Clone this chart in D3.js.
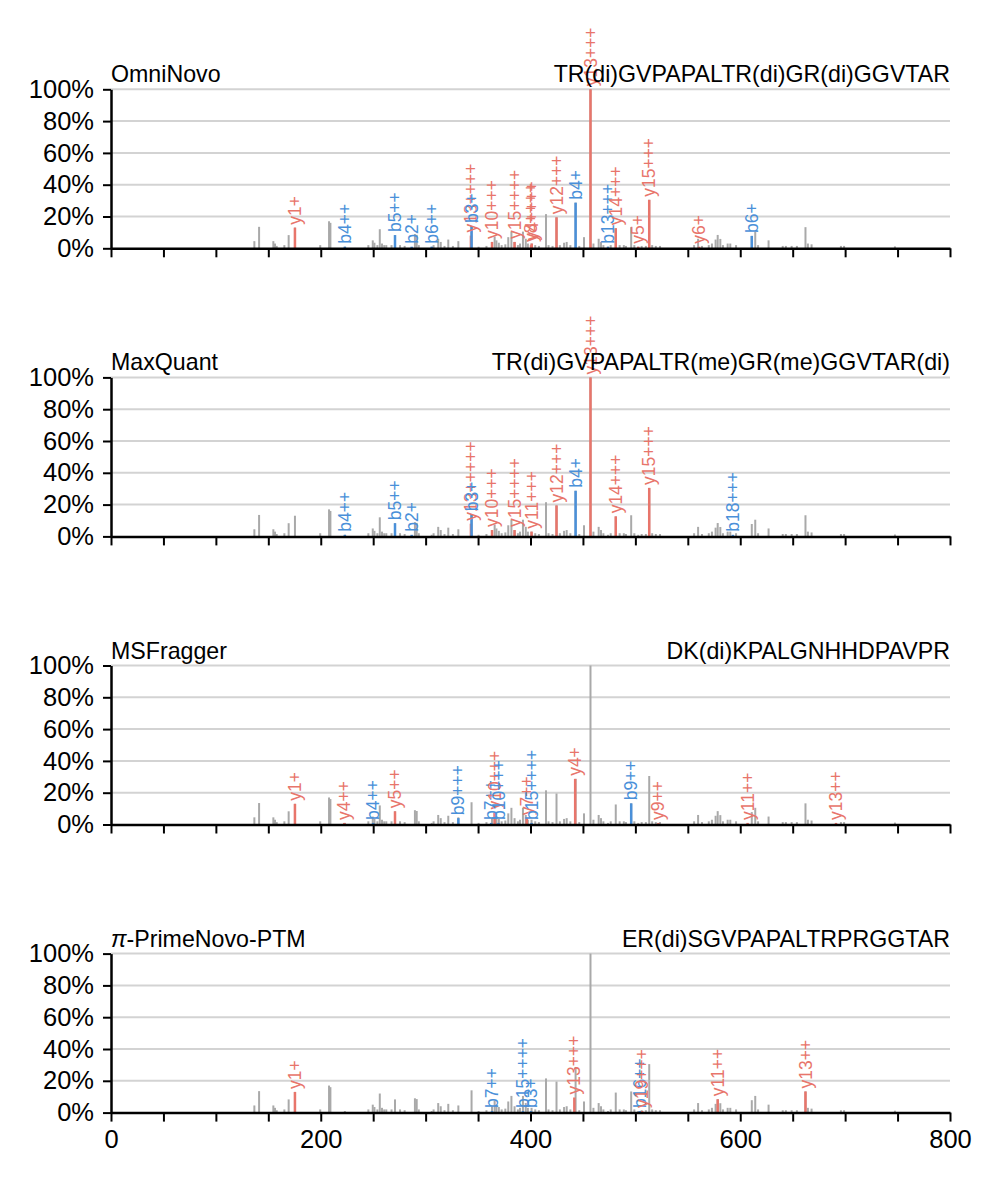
<!DOCTYPE html>
<html>
<head>
<meta charset="utf-8">
<script src="https://cdn.jsdelivr.net/npm/d3@7"></script>
<style>
  body { margin: 0; background: #fff; }
  text { font-family: "Liberation Sans", Arial, sans-serif; }
</style>
</head>
<body>
<svg id="chart" width="998" height="1184"></svg>
<script>
// background spectrum, shared by all panels (m/z, relative intensity %)
const peakMz = [136.7, 141.2, 154.8, 156.4, 158.0, 165.3, 169.4, 175.4, 199.5, 207.9, 209.2, 223.0,
  245.4, 249.6, 251.2, 254.0, 256.3, 258.4, 260.5, 262.5, 267.5, 270.8, 275.6, 280.0, 289.8, 291.5, 293.5,
  305.8, 307.6, 312.0, 314.4, 318.0, 321.6, 326.0, 331.2, 343.8, 350.5, 358.0, 363.3, 365.8, 367.5, 369.8,
  372.5, 376.0, 378.8, 381.8, 384.8, 388.0, 390.0, 392.8, 395.5, 397.5, 401.0, 404.5, 408.0, 414.8, 417.2,
  421.0, 424.8, 428.0, 432.0, 434.5, 438.0, 443.0, 446.5, 451.0, 457.2, 460.0, 465.0, 467.2, 469.5, 473.9,
  476.5, 481.3, 485.0, 489.0, 491.0, 496.0, 499.0, 502.7, 506.0, 510.0, 513.2, 516.0, 519.5, 523.5, 556.0,
  559.8, 563.5, 570.0, 573.0, 576.5, 578.5, 581.0, 583.5, 588.0, 590.5, 596.0, 611.0, 614.3, 617.0, 627.0,
  640.5, 643.5, 649.0, 654.0, 662.2, 664.5, 668.0, 696.0, 699.0, 747.5];
const peakInt = [4.5, 13.5, 4.5, 3, 1.5, 2, 8.3, 13, 2, 17, 16, 1,
  2, 5, 3.5, 2, 12, 3, 2, 2, 2, 8.3, 2, 1.5, 9, 8.5, 2,
  1, 2, 6, 4, 1.5, 5.5, 1.5, 4.5, 14, 1, 1.5, 4, 7.5, 5, 3.5,
  2, 2.5, 7, 10.5, 4, 2, 3, 10.5, 6, 3, 3, 2, 1.5, 21.5, 2,
  1.5, 19.5, 2, 3.5, 4, 2, 28.7, 1.5, 7, 100, 3, 6, 4, 2, 1,
  2, 12.6, 2, 2, 1.5, 13.3, 2, 1, 1.5, 1.5, 30.5, 2, 1.5, 1.5, 2,
  6, 1.5, 2, 3, 5.5, 8.4, 5.9, 2, 3, 3, 2, 7.8, 10.5, 2, 5,
  1.5, 1.5, 1.5, 1.5, 13.3, 3, 2.5, 1.5, 1.5, 1.2];

const panelNames = ["OmniNovo", "MaxQuant", "MSFragger", "π-PrimeNovo-PTM"];
const panelSeqs = ["TR(di)GVPAPALTR(di)GR(di)GGVTAR", "TR(di)GVPAPALTR(me)GR(me)GGVTAR(di)",
  "DK(di)KPALGNHHDPAVPR", "ER(di)SGVPAPALTRPRGGTAR"];

// matched fragment ions: [label, m/z, intensity %]
const omniIons = [["y1+", 175.4, 13], ["b4++", 223.0, 1], ["b5++", 270.8, 8.3], ["b2+", 286.7, 1],
  ["b6++", 305.8, 1], ["y13++++", 343.2, 8], ["b3+", 343.8, 14], ["y10+++", 363.3, 4],
  ["y15++++", 384.8, 4], ["y8++++", 400.5, 2], ["y4++++", 401.2, 3], ["y12+++", 424.8, 19.5],
  ["b4+", 443.0, 28.7], ["y13+++", 457.2, 100], ["b13+++", 473.9, 1], ["y14+++", 481.3, 12.6],
  ["y5+", 502.7, 1], ["y15+++", 513.2, 30.5], ["y6+", 560.8, 1], ["b6+", 611.0, 7.8]];
const maxquantIons = [["b4++", 223.0, 1], ["b5++", 270.8, 8.3], ["b2+", 286.7, 1],
  ["y13+++++", 343.2, 8], ["b3+", 343.8, 14], ["y10+++", 363.3, 4], ["y15++++", 384.8, 4],
  ["y11+++", 401.0, 3], ["y12+++", 424.8, 19.5], ["b4+", 443.0, 28.7], ["y13+++", 457.2, 100],
  ["y14+++", 481.3, 12.6], ["y15+++", 513.2, 30.5], ["b18+++", 593.0, 1]];
const msfraggerIons = [["y1+", 175.4, 13], ["y4++", 222.5, 1], ["b4++", 250.0, 1], ["y5++", 270.8, 8.3],
  ["b9+++", 331.2, 4], ["b7++", 362.5, 1], ["y10+++", 365.8, 7.5], ["b10+++", 369.5, 1],
  ["y7++", 396.4, 4], ["b15++++", 401.0, 1], ["y4+", 442.6, 28.7], ["b9++", 496.0, 13.3],
  ["y9++", 521.9, 1], ["y11++", 607.0, 1], ["y13++", 691.3, 1]];
const primenovoIons = [["y1+", 175.4, 13], ["b7++", 363.3, 1], ["b15++++", 392.8, 1], ["b3+", 400.5, 1],
  ["y13+++", 441.8, 9.5], ["b16++", 504.3, 1], ["y19+++", 506.5, 1], ["y11++", 578.5, 8.4],
  ["y13++", 662.2, 13.3]];
const panelIons = [omniIons, maxquantIons, msfraggerIons, primenovoIons];

const yTicks = [0, 20, 40, 60, 80, 100];
const xTicks = d3.range(0, 801, 50);
const xLabels = [0, 200, 400, 600, 800];

const colors = { b: "#4a90d9", y: "#e8756b", peak: "#a9a9a9", grid: "#d3d3d3" };

const svg = d3.select("#chart");
const area = { left: 111, right: 950, firstBase: 248.3, step: 288.1, height: 159 };
const scX = d3.scaleLinear().domain([0, 800]).range([area.left, area.right]);

function drawPanel(i) {
  const base = area.firstBase + i * area.step;
  const scY = d3.scaleLinear().domain([0, 100]).range([base, base - area.height]);
  const g = svg.append("g");

  g.selectAll(".grid")
    .data(yTicks.slice(1))
    .enter()
    .append("line")
    .attr("x1", area.left)
    .attr("x2", area.right)
    .attr("y1", (d) => scY(d))
    .attr("y2", (d) => scY(d))
    .style("stroke", colors.grid)
    .style("stroke-width", 2);

  g.selectAll(".peak")
    .data(peakMz)
    .enter()
    .append("line")
    .attr("x1", (d) => scX(d))
    .attr("x2", (d) => scX(d))
    .attr("y1", scY(0))
    .attr("y2", (d, k) => scY(peakInt[k]))
    .style("stroke", colors.peak)
    .style("stroke-width", 2);

  const ions = panelIons[i];
  g.selectAll(".ion")
    .data(ions)
    .enter()
    .append("line")
    .attr("x1", (d) => scX(d[1]))
    .attr("x2", (d) => scX(d[1]))
    .attr("y1", scY(0))
    .attr("y2", (d) => scY(d[2]))
    .style("stroke", (d) => colors[d[0][0]])
    .style("stroke-width", 2.5);

  g.selectAll(".ion-label")
    .data(ions)
    .enter()
    .append("text")
    .attr("transform", (d) => `translate(${scX(d[1])},${scY(d[2]) - 3}) rotate(-90)`)
    .attr("dy", "0.35em")
    .style("font-size", "17.5px")
    .style("fill", (d) => colors[d[0][0]])
    .text((d) => d[0]);

  const axisY = d3.axisLeft(scY)
    .tickValues(yTicks)
    .tickFormat((d) => d + "%")
    .tickSize(8)
    .tickSizeOuter(0)
    .tickPadding(9);
  const gy = g.append("g").attr("transform", `translate(${area.left},0)`).call(axisY);
  gy.select(".domain").style("stroke-width", 2.5);
  gy.selectAll(".tick line").style("stroke-width", 2);
  gy.selectAll("text").style("font-size", "25.5px").style("font-family", '"Liberation Sans", Arial, sans-serif');

  const last = i === panelNames.length - 1;
  const axisX = d3.axisBottom(scX)
    .tickValues(xTicks)
    .tickFormat((d) => (last && xLabels.includes(d) ? d : ""))
    .tickSize(9)
    .tickSizeOuter(0)
    .tickPadding(8);
  const gx = g.append("g").attr("transform", `translate(0,${base})`).call(axisX);
  gx.select(".domain").style("stroke-width", 2.5);
  gx.selectAll(".tick line").style("stroke-width", 2);
  gx.selectAll("text").style("font-size", "25.5px").style("font-family", '"Liberation Sans", Arial, sans-serif');

  const top = base - area.height;
  const name = panelNames[i];
  const title = g.append("text")
    .attr("x", area.left)
    .attr("y", top - 7)
    .style("font-size", "23.2px");
  if (name.startsWith("π")) {
    title.append("tspan").style("font-style", "italic").text("π");
    title.append("tspan").text(name.slice(1));
  } else {
    title.text(name);
  }

  g.append("text")
    .attr("x", area.right)
    .attr("y", top - 7)
    .attr("text-anchor", "end")
    .style("font-size", "23.2px")
    .text(panelSeqs[i]);
}

panelNames.forEach((d, i) => drawPanel(i));
</script>
</body>
</html>
